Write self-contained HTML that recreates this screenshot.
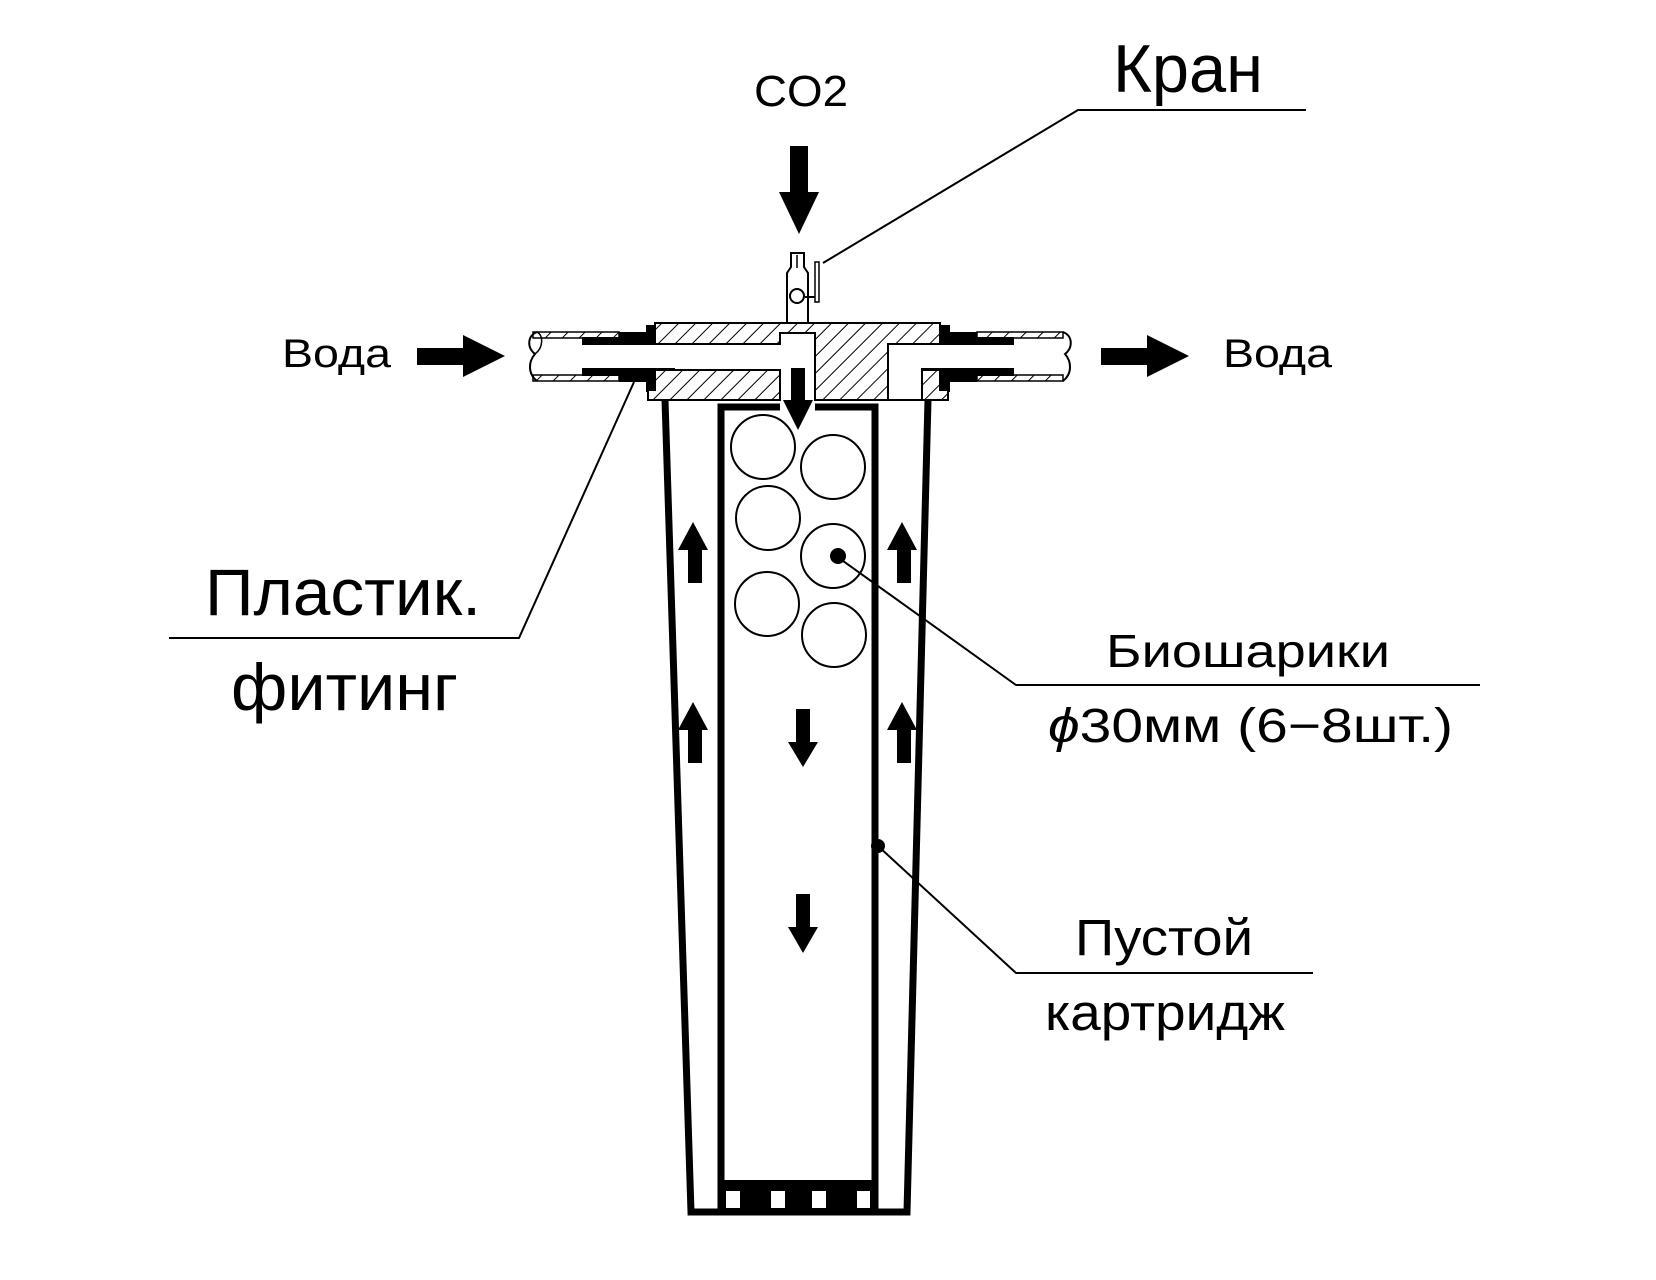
<!DOCTYPE html>
<html><head><meta charset="utf-8"><style>
html,body{margin:0;padding:0;background:#fff;}
svg{display:block;}
text{font-family:"Liberation Sans",Arial,sans-serif;fill:#000;}
</style></head><body>
<svg width="1656" height="1280" viewBox="0 0 1656 1280" xmlns="http://www.w3.org/2000/svg">
<defs>
<pattern id="h" patternUnits="userSpaceOnUse" width="12" height="12" patternTransform="rotate(45)">
<rect width="12" height="12" fill="#fff"/>
<line x1="0" y1="0" x2="0" y2="12" stroke="#000" stroke-width="2"/>
</pattern>
</defs>
<rect width="1656" height="1280" fill="#fff"/>

<text x="754" y="106" font-size="44" textLength="94" lengthAdjust="spacingAndGlyphs">CO2</text>
<text x="1113" y="92" font-size="68" textLength="150" lengthAdjust="spacingAndGlyphs">Кран</text>
<polyline points="823,263 1078,110 1306,110" fill="none" stroke="#000" stroke-width="2"/>
<text x="282" y="367" font-size="40" textLength="109" lengthAdjust="spacingAndGlyphs">Вода</text>
<text x="1223" y="367" font-size="40" textLength="109" lengthAdjust="spacingAndGlyphs">Вода</text>
<text x="205" y="615" font-size="66" textLength="276" lengthAdjust="spacingAndGlyphs">Пластик.</text>
<text x="231" y="710" font-size="66" textLength="227" lengthAdjust="spacingAndGlyphs">фитинг</text>
<polyline points="169,638 519,638 634,382" fill="none" stroke="#000" stroke-width="2"/>
<text x="1106" y="667" font-size="46" textLength="284" lengthAdjust="spacingAndGlyphs">Биошарики</text>
<text x="1048" y="742" font-size="48" textLength="405" lengthAdjust="spacingAndGlyphs"><tspan font-style="italic">ϕ</tspan>30мм (6−8шт.)</text>
<polyline points="839,558 1016,685 1480,685" fill="none" stroke="#000" stroke-width="2"/>
<circle cx="838" cy="556" r="8" fill="#000"/>
<text x="1075" y="955" font-size="51" textLength="178" lengthAdjust="spacingAndGlyphs">Пустой</text>
<text x="1045" y="1030" font-size="51" textLength="240" lengthAdjust="spacingAndGlyphs">картридж</text>
<polyline points="878,846 1016,973 1313,973" fill="none" stroke="#000" stroke-width="2"/>
<circle cx="878" cy="846" r="7" fill="#000"/>

<rect x="790" y="146" width="18" height="47" fill="#000"/>
<polygon points="779,192 819,192 799,234" fill="#000"/>
<rect x="417" y="348" width="47" height="17" fill="#000"/>
<polygon points="463,335 505,356 463,377" fill="#000"/>
<rect x="1101" y="348" width="47" height="17" fill="#000"/>
<polygon points="1147,335 1189,356 1147,377" fill="#000"/>

<path d="M791,253 h13 v14 l4,6 v50 h-21 v-50 l4,-6 z" fill="#fff" stroke="#000" stroke-width="2"/>
<line x1="797" y1="255" x2="797" y2="268" stroke="#000" stroke-width="1.5"/>
<circle cx="797" cy="296" r="7" fill="#fff" stroke="#000" stroke-width="2"/>
<line x1="805" y1="297" x2="817" y2="297" stroke="#000" stroke-width="2"/>
<rect x="815" y="262" width="4" height="40" fill="#fff" stroke="#000" stroke-width="1.5"/>

<rect x="533" y="332" width="86" height="6" fill="url(#h)" stroke="#000" stroke-width="1.5"/>
<rect x="533" y="375" width="86" height="6" fill="url(#h)" stroke="#000" stroke-width="1.5"/>
<path d="M537,332 C527,336 527,348 535,354 C528,362 528,374 537,381" fill="none" stroke="#000" stroke-width="2"/>
<path d="M537,332 C544,336 543,348 535,354" fill="none" stroke="#000" stroke-width="1.5"/>
<rect x="582" y="337" width="93" height="8" fill="#000"/>
<rect x="582" y="368" width="93" height="8" fill="#000"/>
<rect x="619" y="332" width="29" height="13" fill="#000"/>
<rect x="619" y="368" width="29" height="14" fill="#000"/>
<rect x="646" y="325" width="10" height="20" fill="#000"/>
<rect x="646" y="368" width="10" height="24" fill="#000"/>

<rect x="977" y="332" width="86" height="6" fill="url(#h)" stroke="#000" stroke-width="1.5"/>
<rect x="977" y="375" width="86" height="6" fill="url(#h)" stroke="#000" stroke-width="1.5"/>
<path d="M1063,332 C1073,336 1073,348 1065,354 C1072,362 1072,374 1063,381" fill="none" stroke="#000" stroke-width="2"/>
<rect x="921" y="337" width="93" height="8" fill="#000"/>
<rect x="921" y="368" width="93" height="8" fill="#000"/>
<rect x="948" y="332" width="29" height="13" fill="#000"/>
<rect x="948" y="368" width="29" height="14" fill="#000"/>
<rect x="940" y="325" width="10" height="20" fill="#000"/>
<rect x="940" y="368" width="10" height="24" fill="#000"/>

<path d="M655,323 H940 V344 H888 V400 H815 V333 H780 V344 H655 Z" fill="url(#h)" stroke="#000" stroke-width="2"/>
<path d="M655,370 H780 V400 H648 V390 H655 Z" fill="url(#h)" stroke="#000" stroke-width="2"/>
<path d="M922,370 H940 V390 H948 V400 H922 Z" fill="url(#h)" stroke="#000" stroke-width="2"/>
<line x1="888" y1="400" x2="922" y2="400" stroke="#000" stroke-width="2"/>

<rect x="791" y="368" width="14" height="34" fill="#000"/>
<polygon points="783,400 813,400 798,430" fill="#000"/>

<polyline points="665,400 691,1212 907,1212 928,400" fill="none" stroke="#000" stroke-width="7"/>
<polyline points="780,407 721,407 721,1212" fill="none" stroke="#000" stroke-width="7"/>
<polyline points="815,407 875,407 875,1212" fill="none" stroke="#000" stroke-width="7"/>
<rect x="718" y="1180" width="160" height="35" fill="#000"/>
<rect x="726" y="1191" width="14" height="17" fill="#fff"/>
<rect x="771" y="1191" width="14" height="17" fill="#fff"/>
<rect x="812" y="1191" width="14" height="17" fill="#fff"/>
<rect x="857" y="1191" width="13" height="17" fill="#fff"/>

<g fill="none" stroke="#000" stroke-width="2">
<circle cx="763" cy="447" r="32"/>
<circle cx="833" cy="467" r="32"/>
<circle cx="768" cy="518" r="32"/>
<circle cx="833" cy="556" r="32"/>
<circle cx="767" cy="604" r="32"/>
<circle cx="834" cy="635" r="32"/>
</g>

<g fill="#000">
<polygon points="693,522 708,550 678,550"/><rect x="688" y="549" width="14" height="34"/>
<polygon points="902,522 917,550 887,550"/><rect x="897" y="549" width="14" height="34"/>
<polygon points="693,702 708,730 678,730"/><rect x="688" y="729" width="14" height="34"/>
<polygon points="902,702 917,730 887,730"/><rect x="897" y="729" width="14" height="34"/>
<rect x="796" y="709" width="14" height="34"/><polygon points="788,742 818,742 803,767"/>
<rect x="796" y="894" width="14" height="34"/><polygon points="788,927 818,927 803,953"/>
</g>
</svg>
</body></html>
